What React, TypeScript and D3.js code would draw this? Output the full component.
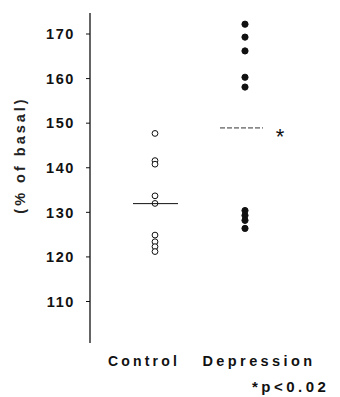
import React from "react";
import * as d3 from "d3";

// values (% of basal)
const groups = ["Control", "Depression"];
const controlValues = [147.7, 141.6, 140.8, 133.7, 132.0, 124.9, 123.4, 122.3, 121.2];
const depressionValues = [172.2, 169.3, 166.2, 160.3, 158.1, 130.4, 129.3, 128.2, 126.4];
const yTicks = [110, 120, 130, 140, 150, 160, 170];
const yLabel = "(% of basal)";
const footnote = "*p<0.02";

const width = 340;
const height = 397;
const font = "'Liberation Sans', Arial, sans-serif";

const App: React.FC = () => {
  const y = d3.scaleLinear().domain([110, 170]).range([301.5, 34]);
  const x = d3.scalePoint<string>().domain(groups).range([155, 245]);
  const axisX = 90;

  const series = [
    { name: groups[0], values: controlValues, filled: false },
    { name: groups[1], values: depressionValues, filled: true },
  ];

  return (
    <svg
      width={width}
      height={height}
      style={{ position: "absolute", left: 0, top: 0, background: "#fff" }}
      fontFamily={font}
    >
      {/* y axis */}
      <line x1={axisX} x2={axisX} y1={y(174.7)} y2={y(100.7)} stroke="#111" strokeWidth={1.3} />
      {yTicks.map(t => (
        <g key={t}>
          <line x1={axisX - 4} x2={axisX} y1={y(t)} y2={y(t)} stroke="#111" strokeWidth={1} />
          <text
            x={75}
            y={y(t)}
            dy="0.36em"
            textAnchor="end"
            fontSize={14.5}
            fontWeight="bold"
            letterSpacing={1.6}
            fill="#111"
          >
            {t}
          </text>
        </g>
      ))}
      <text
        transform={`translate(25, 155) rotate(-90)`}
        textAnchor="middle"
        fontSize={14.5}
        fontWeight="bold"
        letterSpacing={3}
        fill="#222"
      >
        {yLabel}
      </text>

      {/* points and means */}
      {series.map(s => {
        const cx = x(s.name) as number;
        const m = d3.mean(s.values) as number;
        return (
          <g key={s.name}>
            {s.values.map((v, i) => (
              <circle
                key={i}
                cx={cx}
                cy={y(v)}
                r={s.filled ? 3.1 : 2.9}
                fill={s.filled ? "#111" : "#fff"}
                stroke="#111"
                strokeWidth={1}
              />
            ))}
            {s.filled ? (
              <>
                <line
                  x1={cx - 25}
                  x2={cx + 18}
                  y1={y(m)}
                  y2={y(m)}
                  stroke="#333"
                  strokeWidth={1}
                  strokeDasharray="5,2"
                />
                <text x={cx + 35} y={y(m)} dy="0.75em" textAnchor="middle" fontSize={22} fill="#111">
                  *
                </text>
              </>
            ) : (
              <line x1={cx - 22} x2={cx + 23} y1={y(m)} y2={y(m)} stroke="#111" strokeWidth={1} />
            )}
          </g>
        );
      })}

      {/* category labels */}
      <text x={144} y={366} textAnchor="middle" fontSize={14} fontWeight="bold" letterSpacing={3.2} fill="#111">
        {groups[0]}
      </text>
      <text x={259} y={366} textAnchor="middle" fontSize={14.5} fontWeight="bold" letterSpacing={3.4} fill="#111">
        {groups[1]}
      </text>
      <text x={252} y={392} textAnchor="start" fontSize={15} fontWeight="bold" letterSpacing={3.5} fill="#111">
        {footnote}
      </text>
    </svg>
  );
};

export default App;
